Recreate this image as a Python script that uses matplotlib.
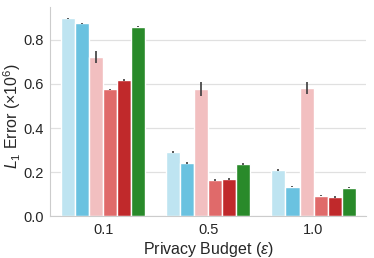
import numpy as np
import matplotlib
matplotlib.use("Agg")
import matplotlib.pyplot as plt
import seaborn as sns

sns.set_style("whitegrid")
plt.rcParams['font.family'] = ['Liberation Sans', 'DejaVu Sans']
plt.rcParams['mathtext.fontset'] = 'custom'
plt.rcParams['mathtext.rm'] = 'Liberation Sans'
plt.rcParams['mathtext.it'] = 'Liberation Sans:italic'

budgets = ["0.1", "0.5", "1.0"]
colors = ["#bee4f1", "#6ac2e0", "#f2bfc0", "#e06a6a", "#c0292b", "#298a2a"]

# one list per method, values per budget (x1e6)
m1 = [0.896, 0.292, 0.209]
m2 = [0.874, 0.242, 0.135]
m3 = [0.720, 0.577, 0.581]
m4 = [0.576, 0.165, 0.094]
m5 = [0.617, 0.169, 0.088]
m6 = [0.859, 0.237, 0.131]
e1 = [0.003, 0.004, 0.004]
e2 = [0.003, 0.003, 0.003]
e3 = [0.027, 0.032, 0.028]
e4 = [0.003, 0.003, 0.003]
e5 = [0.003, 0.003, 0.003]
e6 = [0.003, 0.003, 0.003]

series = [m1, m2, m3, m4, m5, m6]
errs = [e1, e2, e3, e4, e5, e6]

fig = plt.figure(figsize=(3.74, 2.58), dpi=100)
ax = fig.add_axes([0.135, 0.161, 0.844, 0.812])

x = np.arange(len(budgets))
w = 0.8 / len(series)
for i, (vals, err) in enumerate(zip(series, errs)):
    pos = x - 0.4 + w * (i + 0.5)
    ax.bar(pos, vals, width=w, color=colors[i], edgecolor="white", linewidth=1)
    ax.errorbar(pos, vals, yerr=err, fmt="none", ecolor="#3c3c3c", elinewidth=1.2, capsize=0)

ax.set_xlim(-0.5, 2.5)
ax.set_ylim(0, 0.948)
ax.set_yticks([0.0, 0.2, 0.4, 0.6, 0.8])
ax.set_xticks(x)
ax.set_xticklabels(budgets)
ax.tick_params(labelsize=10.5, length=0)
ax.tick_params(axis="y", pad=5)
ax.tick_params(axis="x", pad=5)
ax.xaxis.grid(False)
ax.yaxis.grid(True, color="#e0e0e0", linewidth=0.9)
ax.set_xlabel(r"Privacy Budget ($\mathit{\varepsilon}$)", fontsize=11.5, labelpad=2)
ax.set_ylabel(r"$L_1$ Error ($\times 10^6$)", fontsize=11.5)
ax.yaxis.set_label_coords(-0.086, 0.48)
sns.despine(ax=ax)
for s in ["left", "bottom"]:
    ax.spines[s].set_color("#cccccc")

fig.savefig("out.png", dpi=100)
